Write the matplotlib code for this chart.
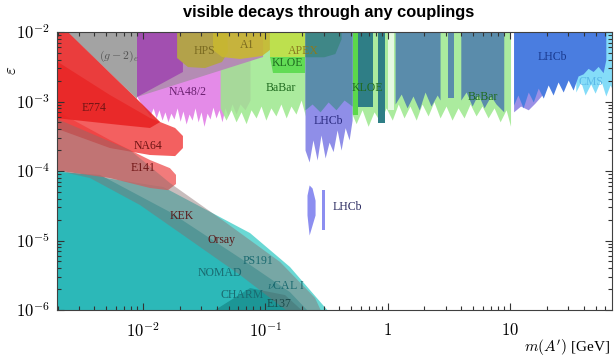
import matplotlib.pyplot as plt
from matplotlib.ticker import NullFormatter

plt.rcParams['mathtext.fontset'] = 'cm'
plt.rcParams['font.family'] = ['Liberation Serif', 'DejaVu Serif']

# limits just outside the frame, used to close the regions
TOP = 1.2e-2
BOT = 9e-7
LEFT = 0.0019

# ---- beam dump limits (polygons: mass [GeV], epsilon)
nomad_m = [LEFT, 0.00445, 0.0166, 0.0621, 0.159, 0.232, LEFT]
nomad_eps = [9.7e-5, 8.8e-5, 2.57e-5, 5.6e-6, 1.81e-6, BOT, BOT]

e137_m = [LEFT, 0.0146, 0.075, 0.159, 0.338, LEFT]
e137_eps = [1.03e-4, 5.9e-5, 1.28e-5, 4.16e-6, BOT, BOT]

charm_m = [0.0353, 0.075, 0.145, 0.211]
charm_eps = [BOT, 2.07e-6, 1.64e-6, BOT]

orsay_m = [LEFT, 0.00783, 0.0166, 0.0468, 0.132, 0.255, 0.291,
           0.159, 0.0621, 0.0242, 0.00945, 0.00369, LEFT]
orsay_eps = [5.8e-4, 2.0e-4, 6.72e-5, 1.85e-5, 4.91e-6, 1.49e-6, BOT,
             BOT, 3.19e-6, 1.02e-5, 3.24e-5, 7.92e-5, 1.03e-4]

# ---- electron beam dumps / fixed target (red)
e774_m = [LEFT, 0.00218, 0.0091, 0.0138, 0.0114, 0.00648, LEFT]
e774_eps = [TOP, TOP, 1.05e-3, 5.07e-4, 4.16e-4, 4.6e-4, 5.8e-4]

na64_m = [LEFT, 0.00537, 0.0114, 0.0183, 0.0212, 0.0212, 0.0183, 0.0114, 0.00537, LEFT]
na64_eps = [3.96e-3, 1.24e-3, 5.8e-4, 4.16e-4, 3.19e-4, 2.14e-4, 1.64e-4, 1.7e-4, 2.14e-4, 4.16e-4]

e141_m = [LEFT, 0.00537, 0.0114, 0.0166, 0.0186, 0.0186, 0.016, 0.0114, 0.00537, LEFT]
e141_eps = [7.55e-4, 2.79e-4, 1.44e-4, 1.1e-4, 8.8e-5, 6.5e-5, 5.3e-5, 5.7e-5, 7.92e-5, 1.03e-4]

# ---- (g-2)_e and NA48/2
gm2_m = [0.00218, 0.0089, 0.0089]
gm2_eps = [TOP, TOP, 1.1e-3]

mauve_m = [0.0089, 0.0958, 0.0958, 0.0089]
mauve_eps = [1.16e-3, 4.37e-3, TOP, TOP]

purple_m = [0.0089, 0.0212, 0.0212, 0.0089]
purple_eps = [TOP, TOP, 2.66e-3, 1.16e-3]

na48_m = [0.00893, 0.00981, 0.0108, 0.0114, 0.0121, 0.0128, 0.0135, 0.0143, 0.0151,
          0.0160, 0.0169, 0.0179, 0.0190, 0.0201, 0.0212, 0.0225, 0.0238, 0.0252,
          0.0266, 0.0282, 0.0298, 0.0315, 0.0334, 0.0353, 0.0373, 0.0395, 0.0418,
          0.0442, 0.0468, 0.0495, 0.0534, 0.0576, 0.0621, 0.0682, 0.0750]
na48_low = [1.16e-3, 8.9e-4, 7.1e-4, 6.2e-4, 8.1e-4, 5.8e-4, 7.6e-4, 5.4e-4, 7.1e-4,
            5.1e-4, 6.8e-4, 5.6e-4, 8.1e-4, 5.2e-4, 7.3e-4, 4.75e-4, 6.6e-4, 5.4e-4,
            8.1e-4, 5.1e-4, 7.1e-4, 4.4e-4, 6.8e-4, 5.6e-4, 8.3e-4, 5.8e-4, 7.6e-4,
            5.1e-4, 8.1e-4, 6.2e-4, 9.2e-4, 6.6e-4, 9.2e-4, 7.6e-4, 1.05e-3]

# ---- BaBar
babar_m = [0.0427, 0.0477, 0.0524, 0.0576, 0.0633, 0.0696, 0.0764, 0.0840, 0.0922,
           0.101, 0.111, 0.122, 0.134, 0.148, 0.162, 0.178, 0.196, 0.215, 0.237,
           0.260, 0.285, 0.313, 0.344, 0.378, 0.416, 0.457, 0.502, 0.552, 0.618,
           0.692, 0.774, 0.867, 0.971, 1.09, 1.22, 1.36, 1.52, 1.71, 1.91, 2.14,
           2.39, 2.68, 3.00, 3.36, 3.76, 4.21, 4.72, 5.28, 5.91, 6.62, 7.41, 8.30,
           9.29, 10.1]
babar_low = [8.1e-4, 5.4e-4, 7.6e-4, 5.1e-4, 7.1e-4, 4.8e-4, 7.6e-4, 5.8e-4, 8.6e-4,
             5.4e-4, 8.1e-4, 6.2e-4, 9.2e-4, 5.8e-4, 8.6e-4, 6.6e-4, 1.05e-3, 5.8e-4,
             8.6e-4, 4.8e-4, 7.6e-4, 4.2e-4, 7.1e-4, 5.1e-4, 8.1e-4, 4.4e-4, 7.1e-4,
             4.8e-4, 7.6e-4, 4.4e-4, 7.1e-4, 5.1e-4, 8.1e-4, 5.4e-4, 9.2e-4, 5.8e-4,
             8.6e-4, 5.4e-4, 9.2e-4, 6.2e-4, 9.9e-4, 5.8e-4, 8.6e-4, 5.4e-4, 8.1e-4,
             5.8e-4, 9.2e-4, 6.2e-4, 8.6e-4, 5.8e-4, 8.1e-4, 5.1e-4, 7.6e-4, 4.4e-4]

# ---- HPS, A1, APEX, KLOE
hps_m = [0.0190, 0.0486, 0.0495, 0.0442, 0.0321, 0.0233, 0.0190]
hps_eps = [TOP, TOP, 5.15e-3, 3.7e-3, 3.03e-3, 3.13e-3, 4.22e-3]

a1_m = [0.0373, 0.109, 0.109, 0.0940, 0.0621, 0.0442, 0.0373]
a1_eps = [TOP, TOP, 5.51e-3, 4.52e-3, 4.09e-3, 4.37e-3, 5.51e-3]

apex_m = [0.109, 0.416, 0.416, 0.109]
apex_eps = [TOP, TOP, 4.37e-3, 4.37e-3]

kloe_m = [0.109, 0.211, 0.211, 0.115]
kloe_eps = [4.37e-3, 4.37e-3, 2.57e-3, 2.57e-3]

kloe_top_m = [0.211, 0.30, 0.37, 0.416]
kloe_top_low = [4.4e-3, 4.4e-3, 4.9e-3, 8e-3]
kloe_col1_m = [0.573, 0.760]
kloe_col1_low = [8.3e-4, 8.3e-4]
kloe_col2_m = [0.835, 0.953]
kloe_col2_low = [4.9e-4, 4.9e-4]
kloe_green_m = [0.521, 0.573]
kloe_green_low = [6.4e-4, 6.4e-4]

phi_veto_m = [1.0, 1.12]
phi_veto_low = [7.55e-4, 7.55e-4]

# ---- LHCb prompt (low mass)
lhcb_lav_m = [0.211, 0.228, 0.245, 0.265, 0.285, 0.308, 0.332, 0.358, 0.386, 0.416, 0.449, 0.484, 0.512]
lhcb_lav_low = [2.0e-4, 1.35e-4, 2.8e-4, 1.44e-4, 3.3e-4, 1.54e-4, 2.6e-4, 1.9e-4, 3.9e-4,
                2.0e-4, 4.2e-4, 2.8e-4, 5.4e-4]

lhcb_a_m = [0.211, 0.241, 0.280, 0.326, 0.378, 0.440, 0.512]
lhcb_a_low = [7.6e-4, 9.2e-4, 7.1e-4, 9.85e-4, 7.6e-4, 1.05e-3, 8.6e-4]
lhcb_b_m = [1.15, 1.29, 1.44, 1.61, 1.81, 2.02, 2.26, 2.54, 2.68]
lhcb_b_low = [9.2e-4, 1.28e-3, 8.1e-4, 1.2e-3, 7.55e-4, 1.37e-3, 8.6e-4, 1.24e-3, 1.05e-3]
lhcb_c_m = [3.10, 3.47]
lhcb_c_low = [1.12e-3, 1.12e-3]
lhcb_d_m = [3.96, 4.38, 4.90, 5.48, 6.14, 6.96, 7.69, 8.89]
lhcb_d_low = [1.05e-3, 1.37e-3, 8.6e-4, 1.28e-3, 8.1e-4, 1.2e-3, 9.2e-4, 7.1e-4]

# ---- LHCb / CMS high mass
lhcb_hi_lav_m = [10.7, 12.2, 14.1, 16.0, 18.7]
lhcb_hi_lav_low = [7.1e-4, 8.6e-4, 7.6e-4, 9.5e-4, 1.3e-3]

lhcb_hi_m = [10.7, 11.6, 12.8, 14.1, 15.5, 17.0, 18.7, 20.5, 22.5, 24.7, 27.2, 29.9,
             32.8, 36.0, 39.6, 43.5, 47.8, 52.5, 57.7, 60.7]
lhcb_hi_low = [8.9e-4, 1.24e-3, 8.1e-4, 1.37e-3, 9.85e-4, 1.56e-3, 1.12e-3, 1.73e-3,
               1.24e-3, 1.91e-3, 1.37e-3, 2.04e-3, 1.46e-3, 2.33e-3, 2.5e-3, 3.0e-3,
               2.7e-3, 3.2e-3, 2.6e-3, 4.0e-3]

cms_m = [34.5, 37.9, 41.1, 45.7, 49.6, 55.2, 60.7, 65.8, 69.2]
cms_low = [1.37e-3, 1.91e-3, 1.24e-3, 1.79e-3, 1.32e-3, 2.04e-3, 1.2e-3, 1.73e-3, 1.46e-3]

# ---- LHCb displaced
disp_m = [0.219, 0.228, 0.241, 0.255]
disp_low = [2.33e-5, 1.2e-5, 1.67e-5, 2.33e-5]
disp_high = [4.5e-5, 6.3e-5, 5.7e-5, 3.8e-5]
disp2_m = [0.291, 0.308]
disp2_low = [1.42e-5, 1.42e-5]
disp2_high = [5.3e-5, 5.3e-5]

# ---- labels: text, mass, epsilon, colour
labels = [
    (r'$(g-2)_e$', 0.00637, 4.52e-3, '#555555'),
    ('HPS', 0.0315, 5.33e-3, '#7a6a20'),
    ('A1', 0.0708, 6.5e-3, '#7a6a20'),
    ('NA48/2', 0.0233, 1.37e-3, '#6a2070'),
    ('E774', 0.00397, 8.06e-4, '#701515'),
    ('APEX', 0.203, 5.33e-3, '#8a7a20'),
    ('KLOE', 0.150, 3.58e-3, '#1f6b1f'),
    ('BaBar', 0.134, 1.56e-3, '#1f6b1f'),
    ('KLOE', 0.679, 1.56e-3, '#1f6b1f'),
    ('LHCb', 0.326, 5.24e-4, '#2a2a80'),
    ('BaBar', 6.03, 1.16e-3, '#1f6b1f'),
    ('LHCb', 22.1, 4.37e-3, '#1a3a90'),
    ('CMS', 45.7, 1.91e-3, '#5ab8e8'),
    ('NA64', 0.0110, 2.29e-4, '#701515'),
    ('E141', 0.0100, 1.10e-4, '#701515'),
    ('KEK', 0.0209, 2.25e-5, '#5a1a1a'),
    ('Orsay', 0.0435, 1.02e-5, '#5a1a1a'),
    ('PS191', 0.0871, 5.07e-6, '#1a6a70'),
    ('NOMAD', 0.0427, 3.40e-6, '#1a6a70'),
    (r'$\nu$CAL I', 0.148, 2.22e-6, '#1a6a70'),
    ('CHARM', 0.0645, 1.64e-6, '#1a6a70'),
    ('E137', 0.129, 1.22e-6, '#1a4a4a'),
    ('LHCb', 0.466, 3.03e-5, '#2a2a60'),
]

xtick_vals = [1e-2, 1e-1, 1, 10]
xtick_labels = [r'$10^{-2}$', r'$10^{-1}$', r'$1$', r'$10$']
ytick_vals = [1e-6, 1e-5, 1e-4, 1e-3, 1e-2]
ytick_labels = [r'$10^{-6}$', r'$10^{-5}$', r'$10^{-4}$', r'$10^{-3}$', r'$10^{-2}$']

fig = plt.figure(figsize=(6.16, 3.58), dpi=100)
ax = fig.add_axes([0.0925, 0.134, 0.901, 0.7766])
ax.set_xscale('log')
ax.set_yscale('log')

# beam dumps
ax.fill(e137_m, e137_eps, color='#6ad8d4', lw=0)
ax.fill(nomad_m, nomad_eps, color='#2cb8b8', lw=0)
ax.fill(charm_m, charm_eps, color='#1c9696', lw=0)

# NA48/2, BaBar, g-2
ax.fill_between(na48_m, na48_low, TOP, color='#e48be8', lw=0)
ax.fill_between(babar_m, babar_low, TOP, color='#9de88d', lw=0, alpha=0.85)
ax.fill(mauve_m, mauve_eps, color='#b48cb4', lw=0)
ax.fill(purple_m, purple_eps, color='#a24fb0', lw=0)
ax.fill(gm2_m, gm2_eps, color='#a3a3a3', lw=0)

# HPS, A1, APEX, KLOE
ax.fill(hps_m, hps_eps, color='#b3a24a', lw=0)
ax.fill(a1_m, a1_eps, color='#c9b830', lw=0, alpha=0.9)
ax.fill(apex_m, apex_eps, color='#bde04e', lw=0)
ax.fill(kloe_m, kloe_eps, color='#62dc55', lw=0)

# LHCb low mass
ax.fill_between(lhcb_lav_m, lhcb_lav_low, TOP, color='#8f8ee8', lw=0)
ax.fill_between(lhcb_a_m, lhcb_a_low, TOP, color='#5a8cab', lw=0)
ax.fill_between(lhcb_b_m, lhcb_b_low, TOP, color='#5a8cab', lw=0)
ax.fill_between(lhcb_c_m, lhcb_c_low, TOP, color='#5a8cab', lw=0)
ax.fill_between(lhcb_d_m, lhcb_d_low, TOP, color='#5a8cab', lw=0)
ax.fill_between(kloe_top_m, kloe_top_low, TOP, color='#3f8787', lw=0)
ax.fill_between(kloe_col1_m, kloe_col1_low, TOP, color='#2f7e86', lw=0)
ax.fill_between(kloe_col2_m, kloe_col2_low, TOP, color='#2f7e86', lw=0)
ax.fill_between(kloe_green_m, kloe_green_low, TOP, color='#5cd84a', lw=0)
ax.fill_between(phi_veto_m, phi_veto_low, TOP, color='white', lw=0, alpha=0.7)

# LHCb / CMS high mass
ax.fill_between(cms_m, cms_low, TOP, color='#84dcf8', lw=0)
ax.fill_between(lhcb_hi_lav_m, lhcb_hi_lav_low, TOP, color='#9a90e6', lw=0)
ax.fill_between(lhcb_hi_m, lhcb_hi_low, TOP, color='#4a7de0', lw=0)

# LHCb displaced
ax.fill_between(disp_m, disp_low, disp_high, color='#8c8ef0', lw=0)
ax.fill_between(disp2_m, disp2_low, disp2_high, color='#8c8ef0', lw=0)

# red regions and the Orsay/KEK band
ax.fill(e141_m, e141_eps, color='#f06464', lw=0, alpha=0.85)
ax.fill(na64_m, na64_eps, color='#f03838', lw=0, alpha=0.8)
ax.fill(e774_m, e774_eps, color='#e82222', lw=0, alpha=0.88)
ax.fill(orsay_m, orsay_eps, color='#876d6d', lw=0, alpha=0.45)

for txt, m, e, c in labels:
    ax.text(m, e, txt, color=c, fontsize=8.5, ha='center', va='center')

ax.set_xlim(0.00198, 68.2)
ax.set_ylim(1e-6, 1e-2)
ax.set_xticks(xtick_vals)
ax.set_xticklabels(xtick_labels)
ax.set_yticks(ytick_vals)
ax.set_yticklabels(ytick_labels)
ax.xaxis.set_minor_formatter(NullFormatter())
ax.yaxis.set_minor_formatter(NullFormatter())
ax.tick_params(which='both', direction='in', top=True, right=True, color='#333333', width=0.8)
ax.tick_params(which='major', length=5)
ax.tick_params(which='minor', length=3)
ax.tick_params(axis='x', labelsize=12, pad=9)
ax.tick_params(axis='y', labelsize=12, pad=5)
for s in ax.spines.values():
    s.set_color('#404040')
    s.set_linewidth(0.8)

fig.text(328.5 / 616, 1 - 17 / 358, 'visible decays through any couplings',
         family='Liberation Sans', fontweight='bold', fontsize=11.8, ha='center', va='baseline')
fig.text(12 / 616, 1 - 70 / 358, r'$\varepsilon$', fontsize=12, rotation=90, ha='center', va='center')
fig.text(610 / 616, 10 / 358, r'$m(A^\prime)$ [GeV]', fontsize=11, ha='right', va='center')

fig.savefig('out.png', dpi=100)
